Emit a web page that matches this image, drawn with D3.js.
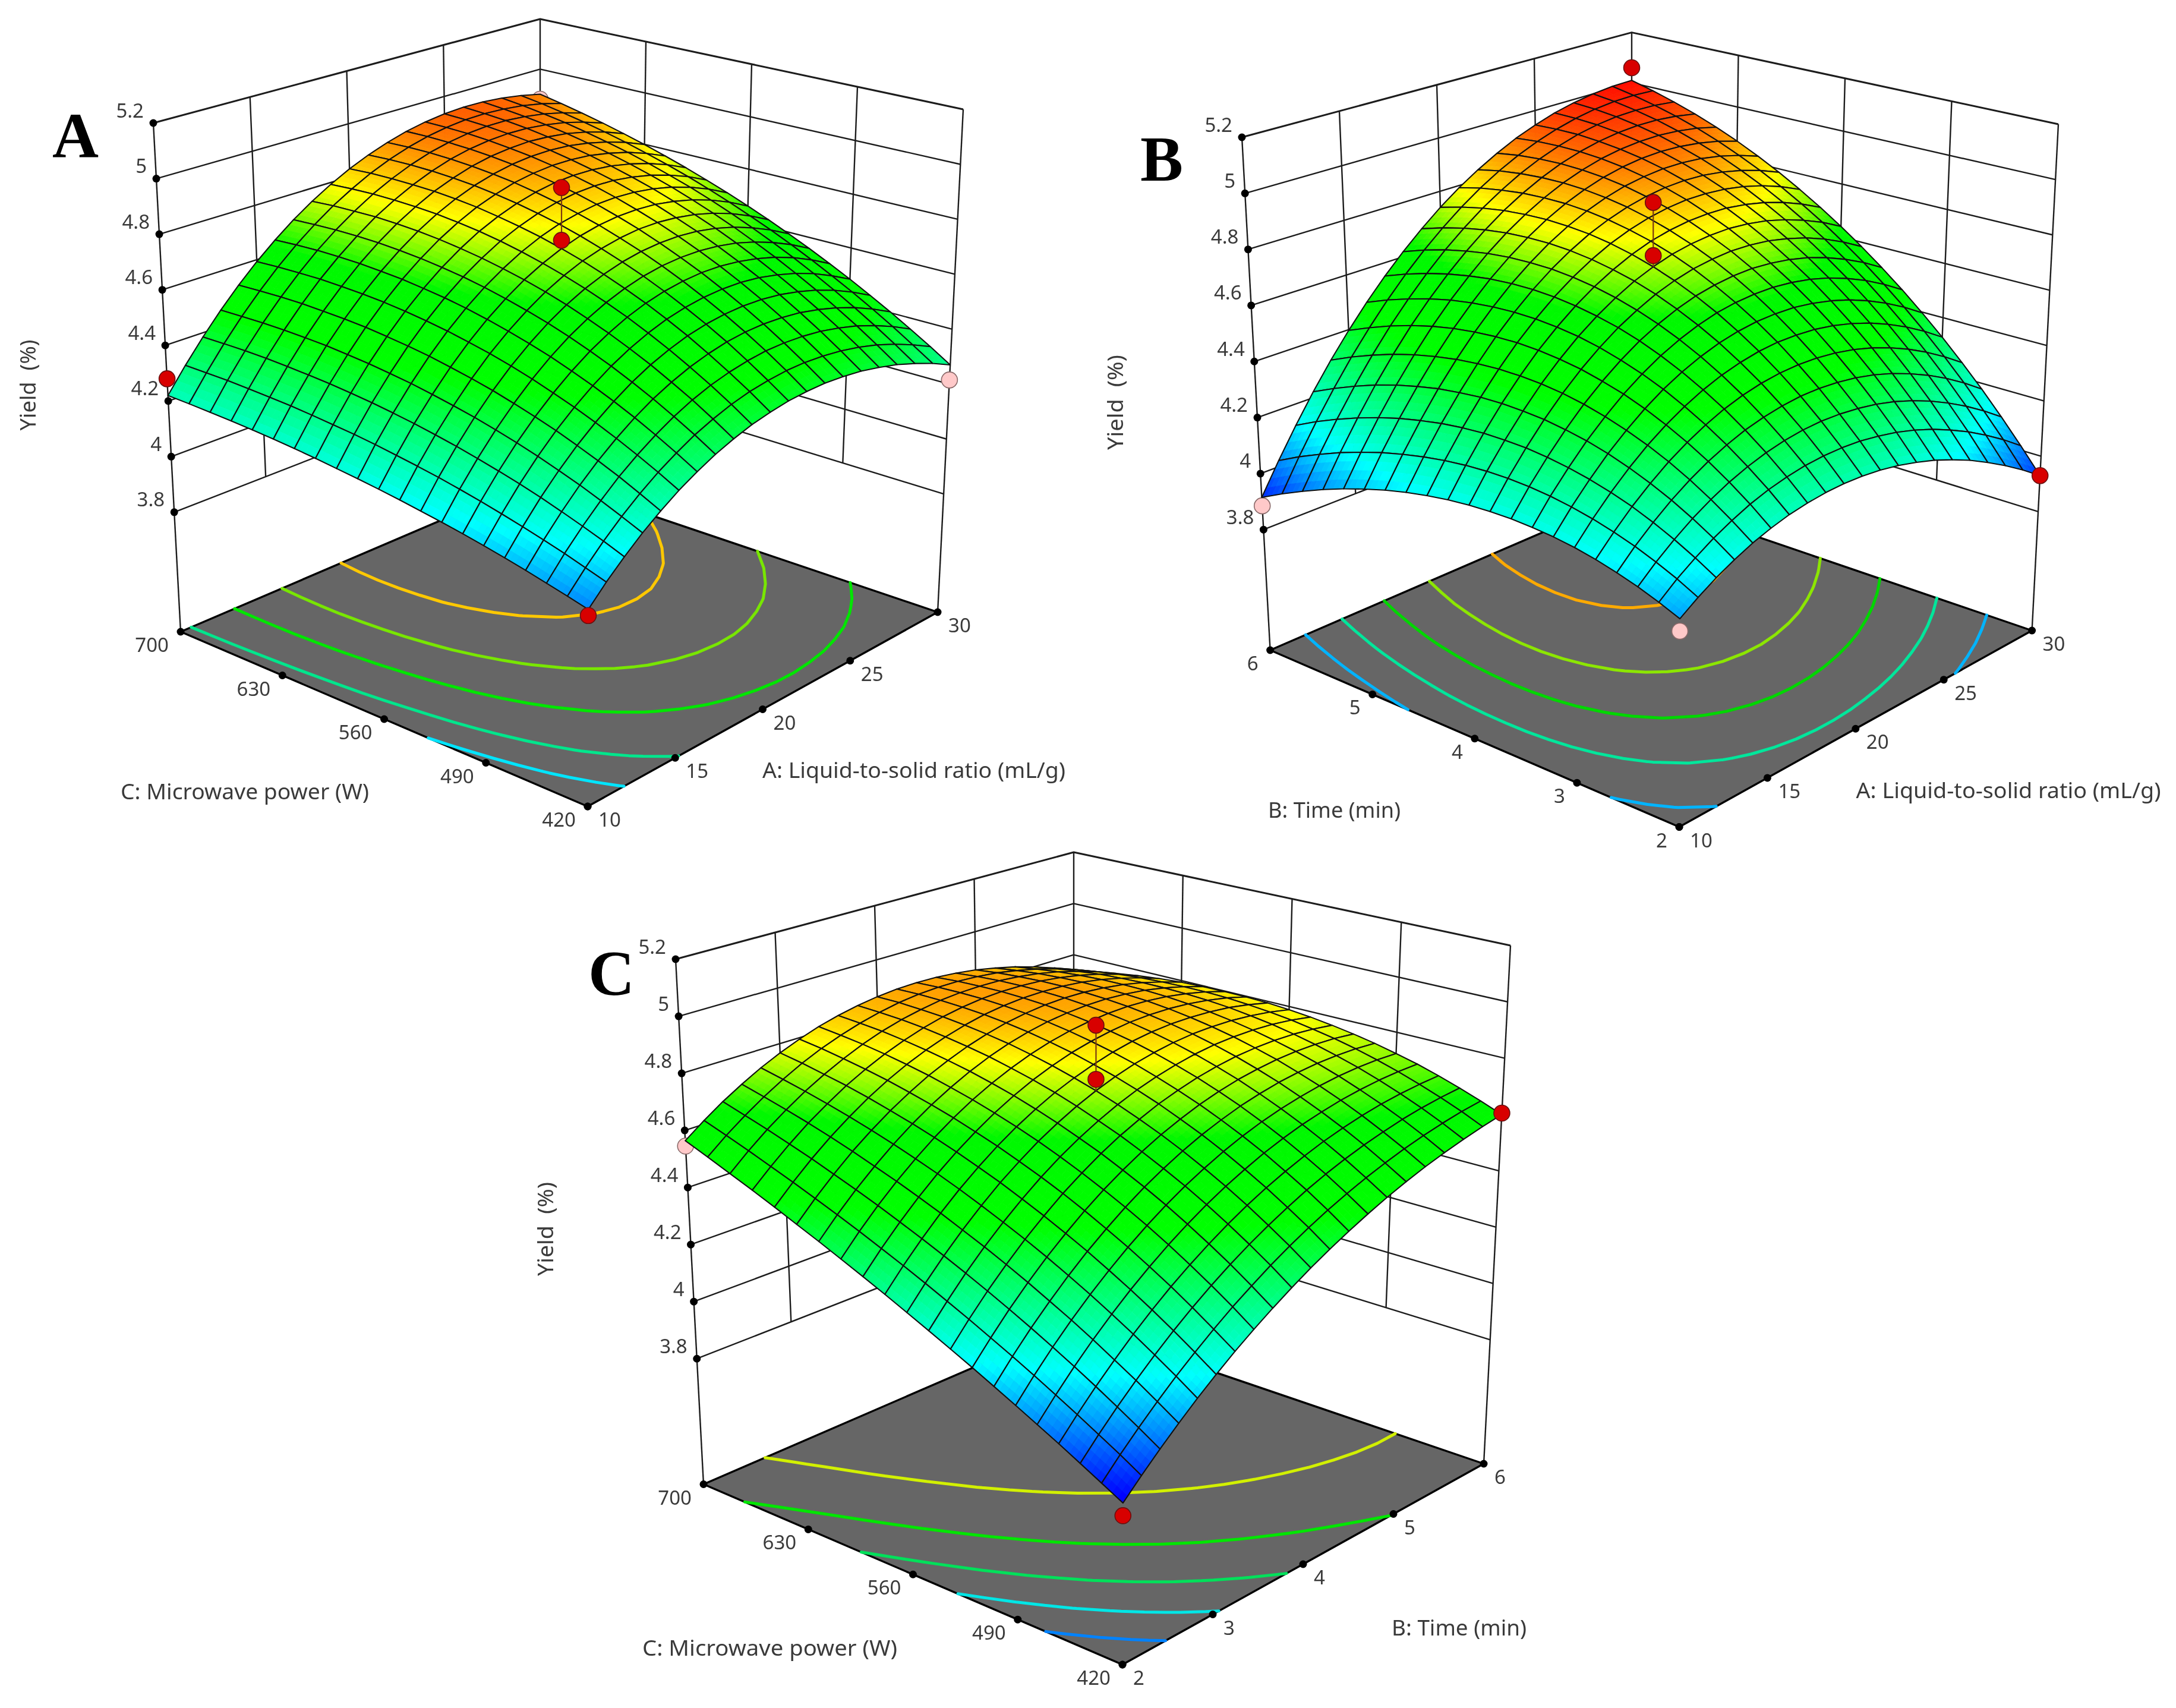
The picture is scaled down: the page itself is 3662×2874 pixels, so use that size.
<!DOCTYPE html>
<html><head><meta charset="utf-8">
<script src="https://cdnjs.cloudflare.com/ajax/libs/d3/7.8.5/d3.min.js"></script>
<style>html,body{margin:0;padding:0;background:#fff}svg{display:block;filter:blur(0.7px)}</style>
</head><body><svg id="c" width="3662" height="2874" viewBox="0 0 3662 2874"></svg>
<script>
// ---------- tick labels ----------
const ratioTicks=[10,15,20,25,30];
const powerTicks=[420,490,560,630,700];
const timeTicks=[2,3,4,5,6];
const yieldTicks=[3.8,4,4.2,4.4,4.6,4.8,5,5.2];
// ---------- response surfaces, yield x 1000, rows along first factor, columns along second ----------
const yieldGridA=[
[4010,4028,4045,4062,4078,4093,4107,4120,4132,4144,4155,4165,4174,4183,4191,4198,4204,4209,4213,4217,4220],
[4071,4093,4115,4135,4154,4172,4189,4205,4220,4233,4245,4257,4267,4275,4283,4290,4295,4299,4303,4304,4305],
[4126,4153,4178,4202,4225,4246,4265,4283,4300,4315,4329,4341,4352,4361,4369,4375,4380,4384,4386,4386,4385],
[4177,4207,4236,4264,4289,4313,4335,4355,4374,4390,4405,4419,4430,4440,4448,4455,4459,4462,4463,4462,4460],
[4222,4256,4289,4319,4347,4374,4398,4420,4441,4459,4475,4490,4502,4512,4521,4527,4531,4534,4534,4532,4529],
[4263,4300,4335,4368,4399,4428,4454,4479,4501,4521,4538,4554,4567,4578,4587,4593,4597,4600,4599,4597,4593],
[4298,4338,4376,4412,4445,4476,4504,4531,4554,4575,4594,4611,4625,4636,4646,4652,4657,4659,4659,4656,4651],
[4329,4372,4412,4450,4485,4518,4548,4576,4601,4623,4643,4661,4676,4688,4698,4705,4710,4712,4712,4709,4704],
[4354,4399,4442,4481,4519,4553,4585,4614,4641,4665,4686,4704,4720,4733,4744,4752,4757,4760,4759,4757,4751],
[4375,4422,4466,4507,4546,4582,4616,4646,4674,4699,4721,4741,4758,4772,4783,4792,4797,4800,4801,4798,4793],
[4390,4439,4484,4527,4568,4605,4640,4671,4700,4727,4750,4771,4788,4803,4816,4825,4832,4835,4836,4835,4830],
[4401,4450,4497,4542,4583,4621,4657,4690,4720,4747,4772,4794,4812,4828,4841,4852,4859,4864,4866,4865,4861],
[4406,4457,4505,4550,4592,4631,4668,4702,4733,4761,4787,4809,4829,4846,4861,4872,4881,4887,4890,4890,4887],
[4407,4458,4506,4552,4595,4635,4673,4707,4739,4769,4795,4819,4840,4858,4873,4886,4896,4903,4907,4909,4908],
[4402,4453,4502,4548,4592,4633,4671,4706,4739,4769,4796,4821,4843,4862,4879,4893,4904,4913,4919,4922,4923],
[4393,4444,4493,4539,4583,4624,4662,4698,4732,4762,4791,4816,4840,4860,4878,4894,4907,4917,4925,4930,4933],
[4378,4429,4477,4523,4567,4608,4647,4684,4718,4749,4778,4805,4829,4851,4871,4888,4902,4915,4925,4932,4937],
[4359,4409,4457,4502,4546,4587,4626,4662,4697,4729,4759,4787,4812,4835,4856,4875,4892,4906,4918,4928,4936],
[4334,4383,4430,4475,4518,4559,4598,4634,4669,4702,4733,4762,4788,4813,4836,4856,4875,4892,4906,4919,4929],
[4305,4352,4398,4442,4484,4524,4563,4600,4635,4668,4700,4730,4758,4784,4808,4831,4852,4871,4888,4904,4917],
[4270,4316,4360,4403,4444,4484,4522,4559,4594,4628,4660,4691,4720,4748,4774,4799,4822,4844,4864,4883,4900]];
const yieldGridB=[
[4040,4068,4093,4114,4132,4146,4156,4162,4165,4164,4160,4152,4140,4125,4106,4083,4057,4027,3993,3956,3915],
[4081,4116,4146,4173,4195,4214,4229,4240,4247,4250,4249,4244,4235,4222,4205,4185,4160,4132,4099,4063,4022],
[4117,4157,4193,4225,4253,4276,4295,4310,4321,4328,4330,4329,4323,4313,4298,4280,4257,4230,4199,4164,4124],
[4148,4194,4235,4272,4304,4332,4356,4375,4389,4400,4405,4407,4404,4396,4385,4368,4348,4323,4293,4259,4221],
[4175,4225,4271,4313,4350,4382,4409,4432,4451,4465,4474,4478,4478,4473,4464,4450,4432,4409,4381,4349,4312],
[4196,4252,4302,4348,4389,4425,4457,4484,4505,4523,4535,4543,4546,4544,4537,4526,4510,4489,4463,4432,4397],
[4213,4273,4327,4377,4422,4462,4498,4528,4553,4574,4590,4600,4606,4607,4603,4594,4581,4562,4538,4510,4477],
[4224,4288,4347,4401,4450,4493,4532,4566,4595,4619,4637,4651,4660,4664,4663,4657,4645,4629,4608,4582,4551],
[4231,4299,4361,4418,4471,4518,4560,4597,4629,4656,4678,4695,4707,4714,4715,4712,4704,4690,4672,4648,4619],
[4233,4304,4370,4430,4486,4536,4582,4622,4657,4688,4713,4732,4747,4757,4762,4761,4756,4745,4729,4708,4682],
[4230,4304,4373,4437,4495,4549,4597,4641,4679,4712,4740,4763,4781,4794,4801,4804,4801,4794,4781,4763,4740],
[4222,4299,4370,4437,4498,4555,4606,4652,4693,4730,4761,4787,4807,4823,4834,4840,4840,4836,4826,4812,4792],
[4209,4288,4362,4431,4495,4554,4608,4657,4701,4740,4774,4803,4827,4846,4860,4869,4873,4872,4866,4855,4838],
[4191,4273,4349,4420,4486,4548,4605,4656,4703,4745,4781,4813,4840,4862,4880,4892,4899,4902,4899,4892,4879],
[4169,4252,4330,4403,4471,4535,4594,4648,4697,4742,4782,4816,4847,4872,4892,4908,4919,4925,4926,4923,4915],
[4141,4226,4305,4380,4450,4516,4577,4634,4685,4733,4775,4813,4846,4875,4899,4918,4932,4942,4948,4948,4944],
[4109,4194,4275,4351,4423,4491,4554,4613,4667,4716,4762,4802,4839,4871,4898,4921,4939,4953,4963,4968,4969],
[4071,4158,4239,4317,4390,4459,4524,4585,4641,4694,4741,4785,4825,4860,4891,4917,4940,4958,4972,4982,4987],
[4029,4116,4198,4277,4351,4422,4488,4551,4609,4664,4714,4761,4804,4842,4877,4907,4934,4957,4975,4990,5000],
[3982,4069,4151,4231,4306,4378,4446,4510,4571,4627,4681,4730,4776,4818,4856,4891,4922,4949,4972,4992,5008],
[3930,4016,4099,4179,4255,4328,4397,4463,4525,4584,4640,4692,4741,4787,4829,4868,4903,4935,4963,4988,5010]];
const yieldGridC=[
[3870,3907,3944,3981,4017,4053,4089,4125,4160,4195,4230,4265,4299,4333,4367,4400,4434,4467,4499,4532,4564],
[3928,3969,4008,4047,4085,4123,4160,4196,4232,4267,4302,4336,4369,4402,4434,4465,4496,4526,4556,4585,4613],
[3984,4027,4069,4110,4150,4189,4227,4264,4300,4335,4369,4402,4434,4466,4496,4525,4554,4581,4608,4633,4658],
[4038,4083,4127,4169,4211,4251,4289,4327,4363,4398,4431,4464,4495,4525,4553,4581,4607,4632,4655,4677,4698],
[4090,4137,4182,4226,4268,4309,4348,4386,4422,4456,4489,4521,4551,4579,4606,4631,4655,4677,4698,4717,4735],
[4139,4187,4234,4279,4322,4363,4403,4440,4476,4510,4543,4573,4602,4629,4654,4677,4699,4719,4736,4753,4767],
[4186,4235,4283,4329,4372,4414,4453,4491,4527,4560,4591,4621,4648,4674,4697,4718,4738,4755,4770,4784,4795],
[4230,4281,4329,4375,4419,4461,4500,4537,4572,4605,4636,4664,4690,4714,4735,4755,4772,4787,4800,4810,4819],
[4272,4323,4372,4418,4462,4504,4543,4579,4614,4645,4675,4702,4727,4749,4769,4786,4801,4814,4825,4832,4838],
[4312,4364,4412,4458,4502,4543,4581,4617,4651,4681,4710,4736,4759,4779,4798,4813,4826,4837,4845,4850,4853],
[4350,4401,4449,4495,4538,4578,4616,4651,4683,4713,4740,4764,4786,4805,4822,4835,4846,4855,4860,4864,4864],
[4385,4436,4483,4528,4570,4610,4647,4680,4712,4740,4766,4788,4809,4826,4841,4853,4862,4868,4872,4873,4871],
[4418,4468,4515,4558,4600,4638,4673,4706,4735,4762,4787,4808,4826,4842,4855,4865,4872,4877,4878,4877,4873],
[4449,4497,4543,4585,4625,4662,4696,4727,4755,4780,4803,4823,4839,4853,4864,4873,4878,4881,4880,4877,4871],
[4478,4524,4568,4609,4647,4682,4714,4744,4770,4794,4815,4833,4848,4860,4869,4876,4879,4880,4878,4873,4865],
[4504,4548,4590,4629,4665,4698,4729,4756,4781,4803,4822,4838,4851,4862,4869,4874,4876,4875,4871,4865,4855],
[4528,4570,4609,4646,4680,4711,4739,4765,4787,4807,4824,4838,4850,4859,4864,4867,4868,4865,4860,4851,4840],
[4549,4589,4626,4660,4691,4720,4746,4769,4789,4807,4822,4834,4844,4851,4855,4856,4855,4851,4844,4834,4822],
[4568,4605,4639,4670,4699,4725,4748,4769,4787,4803,4815,4826,4833,4838,4840,4840,4837,4832,4823,4812,4799],
[4585,4619,4649,4677,4703,4726,4747,4765,4780,4794,4804,4812,4818,4821,4821,4819,4815,4808,4798,4786,4772],
[4600,4629,4656,4681,4704,4723,4741,4756,4769,4780,4788,4794,4797,4798,4797,4794,4788,4779,4768,4755,4740]];
// ---------- contour levels and their colours ----------
const contourLevelsA=[4.13,4.27,4.46,4.63,4.79];
const contourLevelsB=[4.12,4.31,4.50,4.67,4.85];
const contourLevelsC=[4.005,4.155,4.315,4.50,4.71];
const contourColoursA=["#00e5ff","#00e68c","#00e600","#78e600","#ffc800"];
const contourColoursB=["#00b4ff","#00e69b","#00d700","#8ce600","#ffaa00"];
const contourColoursC=["#0082ff","#00e6e6","#00e05a","#00e600","#d2f000"];
// ---------- design points: [first factor, second factor, yield, above surface?] ----------
const pointsA=[[10,420,3.99,1],[10,700,4.28,1],[30,420,4.215,0],[30,700,4.88,0],[20,560,4.97,1],[20,560,4.78,1]];
const pointsB=[[10,6,3.885,0],[30,2,3.93,1],[10,2,4.0,0],[30,6,5.06,1],[20,4,4.97,1],[20,4,4.78,1]];
const pointsC=[[2,700,4.545,0],[6,420,4.605,1],[2,420,3.83,1],[4,560,4.97,1],[4,560,4.78,1]];

// ---------- layout of each panel (box corners: F front, R right, L left, K back) ----------
const panels=[
{letter:"A",lx:127,ly:265,grid:yieldGridA,levels:contourLevelsA,lvCol:contourColoursA,pts:pointsA,uTicks:ratioTicks,vTicks:powerTicks,zFloor:3.37,
 F:[989,1357],R:[1578,1030],L:[304,1063],K:[909,804],Ft:[992,409],Rt:[1621,184],Lt:[258,207],Kt:[909,32],
 titles:[["C: Microwave power (W)",203,1333,418],["A: Liquid-to-solid ratio (mL/g)",1283,1297,510]],yt:[48,648,153]},
{letter:"B",lx:1955,ly:304,grid:yieldGridB,levels:contourLevelsB,lvCol:contourColoursB,pts:pointsB,uTicks:ratioTicks,vTicks:timeTicks,zFloor:3.37,
 F:[2826,1391.5],R:[3419.6,1061],L:[2137.6,1094],K:[2746,831],Ft:[2829,434.5],Rt:[3464,209],Lt:[2090,231],Kt:[2746,54.6],
 titles:[["B: Time (min)",2134,1364,223],["A: Liquid-to-solid ratio (mL/g)",3123.5,1331,513]],yt:[1878,677,160]},
{letter:"C",lx:1029,ly:1674,grid:yieldGridC,levels:contourLevelsC,lvCol:contourColoursC,pts:pointsC,uTicks:timeTicks,vTicks:powerTicks,zFloor:3.36,
 F:[1889,2801],R:[2497,2463],L:[1184,2497.5],K:[1807,2228],Ft:[1892,1820],Rt:[2542,1591],Lt:[1137,1614],Kt:[1807,1434],
 titles:[["C: Microwave power (W)",1081,2774,429],["B: Time (min)",2342,2740,227]],yt:[919,2068,158]}
];
const colour=d3.scaleLinear().domain([3.88,4.135,4.45,4.64,4.79,5.02])
  .range(["#0000ff","#00ffff","#00ff00","#00f800","#ffff00","#ff0000"]).clamp(true);
const FONT="'Noto Sans','Open Sans',sans-serif", INK="#3a3a3a", LINE="#1c1c1c";
const svg=d3.select("#c");
svg.append("rect").attr("width",3662).attr("height",2874).attr("fill","#fff");
const poly=p=>{const q=d3.path();p.forEach((a,i)=>i?q.lineTo(a[0],a[1]):q.moveTo(a[0],a[1]));q.closePath();return q.toString()};
const open=p=>{const q=d3.path();p.forEach((a,i)=>i?q.lineTo(a[0],a[1]):q.moveTo(a[0],a[1]));return q.toString()};

panels.forEach(P=>{
  const g=svg.append("g");
  const uS=d3.scaleLinear().domain(d3.extent(P.uTicks)).range([0,1]);
  const vS=d3.scaleLinear().domain(d3.extent(P.vTicks)).range([0,1]);
  const zS=d3.scaleLinear().domain([P.zFloor,5.2]).range([0,1]);
  const n=P.grid.length-1;
  const cube=(u,v,t)=>{
    const bl=(a,b,c,d,k)=>(1-u)*(1-v)*a[k]+u*(1-v)*b[k]+(1-u)*v*c[k]+u*v*d[k];
    return [0,1].map(k=>(1-t)*bl(P.F,P.R,P.L,P.K,k)+t*bl(P.Ft,P.Rt,P.Lt,P.Kt,k));
  };
  const at=(uv,vv,z)=>cube(uS(uv),vS(vv),zS(z));
  const Z=(i,j)=>P.grid[i][j]/1000;
  const [u0,u1]=uS.domain(),[v0,v1]=vS.domain();
  const line=(pts,w,col)=>g.append("path").attr("d",open(pts)).attr("fill","none").attr("stroke",col||LINE).attr("stroke-width",w).attr("stroke-linejoin","round");
  // walls
  const zLow=yieldTicks[0],zTop=yieldTicks[yieldTicks.length-1];
  yieldTicks.forEach(z=>line([at(u0,v1,z),at(u1,v1,z),at(u1,v0,z)],z===zTop?3:2.4));
  P.uTicks.slice(1,-1).forEach(t=>line([at(t,v1,zLow),at(t,v1,zTop)],2.4));
  P.vTicks.slice(1,-1).forEach(t=>line([at(u1,t,zLow),at(u1,t,zTop)],2.4));
  line([at(u1,v1,zLow),at(u1,v1,zTop)],2.4);
  line([at(u0,v1,P.zFloor),at(u0,v1,zTop)],2.4);
  line([at(u1,v0,P.zFloor),at(u1,v0,zTop)],2.4);
  // floor
  g.append("path").attr("d",poly([P.F,P.R,P.K,P.L])).attr("fill","#666666").attr("stroke","#000").attr("stroke-width",3.4).attr("stroke-linejoin","round");
  // contours on the floor (marching squares over the grid)
  P.levels.forEach((lv,li)=>{
    const q=d3.path();
    const cross=(a,b,za,zb)=>{const f=(lv-za)/(zb-za);return [a[0]+(b[0]-a[0])*f,a[1]+(b[1]-a[1])*f]};
    for(let i=0;i<n;i++)for(let j=0;j<n;j++){
      const c=[[i,j],[i+1,j],[i+1,j+1],[i,j+1]];
      const hits=[];
      for(let k=0;k<4;k++){
        const a=c[k],b=c[(k+1)%4],za=Z(a[0],a[1]),zb=Z(b[0],b[1]);
        if((za<lv)!==(zb<lv)) hits.push(cross(a,b,za,zb));
      }
      for(let k=0;k+1<hits.length;k+=2){
        const A=cube(hits[k][0]/n,hits[k][1]/n,0),B=cube(hits[k+1][0]/n,hits[k+1][1]/n,0);
        q.moveTo(A[0],A[1]);q.lineTo(B[0],B[1]);
      }
    }
    g.append("path").attr("d",q.toString()).attr("fill","none").attr("stroke",P.lvCol[li]).attr("stroke-width",5).attr("stroke-linecap","round");
  });
  // tick dots
  const dot=(p,r)=>g.append("circle").attr("cx",p[0]).attr("cy",p[1]).attr("r",r||6.5).attr("fill","#000");
  yieldTicks.forEach(z=>dot(at(u0,v1,z)));
  P.uTicks.forEach(t=>dot(at(t,v0,P.zFloor)));
  P.vTicks.forEach(t=>dot(at(u0,t,P.zFloor)));
  // design points under the surface
  const design=d=>{const p=at(d[0],d[1],d[2]);
    g.append("circle").attr("cx",p[0]).attr("cy",p[1]).attr("r",13.5)
     .attr("fill",d[3]?"#d80000":"#ffc9c9").attr("stroke",d[3]?"#6a1010":"#8a6a6a").attr("stroke-width",1.6);};
  P.pts.filter(d=>!d[3]).forEach(design);
  // surface, painted from the far corner to the near corner
  const cells=[];
  const k=4;
  for(let i=n-1;i>=0;i--)for(let j=n-1;j>=0;j--){
    const z00=Z(i,j),z10=Z(i+1,j),z01=Z(i,j+1),z11=Z(i+1,j+1);
    const bil=(a,b)=>(1-a)*(1-b)*z00+a*(1-b)*z10+(1-a)*b*z01+a*b*z11;
    const node=(a,b)=>cube((i+a)/n,(j+b)/n,zS(bil(a,b)));
    for(let a=k-1;a>=0;a--)for(let b=k-1;b>=0;b--){
      const a0=a/k,a1=(a+1)/k,b0=b/k,b1=(b+1)/k;
      cells.push({d:poly([node(a0,b0),node(a1,b0),node(a1,b1),node(a0,b1)]),c:colour(bil((a0+a1)/2,(b0+b1)/2))});
    }
    cells.push({d:poly([node(0,0),node(1,0),node(1,1),node(0,1)]),mesh:true});
  }
  g.append("g").selectAll("path").data(cells).join("path").attr("d",d=>d.d)
    .attr("fill",d=>d.mesh?"none":d.c).attr("stroke",d=>d.mesh?"#101010":d.c)
    .attr("stroke-width",d=>d.mesh?2.1:0.9).attr("stroke-linejoin","round");
  // design points over the surface, with the stem of the centre runs
  const centre=P.pts.filter(d=>d[0]===P.uTicks[2]);
  const top=at(centre[0][0],centre[0][1],centre[0][2]);
  const base=at(centre[0][0],centre[0][1],Z(n/2,n/2));
  line([top,base],2.2,"#7a3a10");
  P.pts.filter(d=>d[3]).forEach(design);
  // tick labels
  const txt=(s,x,y,anchor,size,extra)=>{const e=g.append("text").attr("x",x).attr("y",y).attr("text-anchor",anchor)
     .attr("font-family",FONT).attr("font-size",size).attr("fill",INK).text(s);if(extra)extra(e);return e};
  yieldTicks.forEach(z=>{const p=at(u0,v1,z);txt(z,p[0]-16,p[1]-9.5,"end",33)});
  P.uTicks.forEach(t=>{const p=at(t,v0,P.zFloor);txt(t,p[0]+18,p[1]+34,"start",33)});
  P.vTicks.forEach(t=>{const p=at(u0,t,P.zFloor);txt(t,p[0]-20,p[1]+34,"end",33)});
  // axis titles
  P.titles.forEach(T=>txt(T[0],T[1],T[2]+12,"start",36,e=>e.attr("textLength",T[3]).attr("lengthAdjust","spacingAndGlyphs")));
  g.append("text").attr("transform",`translate(${P.yt[0]+12},${P.yt[1]}) rotate(-90)`).attr("text-anchor","middle")
    .attr("font-family",FONT).attr("font-size",36).attr("fill",INK).attr("xml:space","preserve")
    .attr("textLength",P.yt[2]).attr("lengthAdjust","spacingAndGlyphs").text("Yield  (%)");
  // panel letter
  g.append("text").attr("x",P.lx).attr("y",P.ly).attr("text-anchor","middle").attr("font-family","'Liberation Serif',serif")
    .attr("font-weight","bold").attr("font-size",108).attr("fill","#000").text(P.letter);
});
</script></body></html>
